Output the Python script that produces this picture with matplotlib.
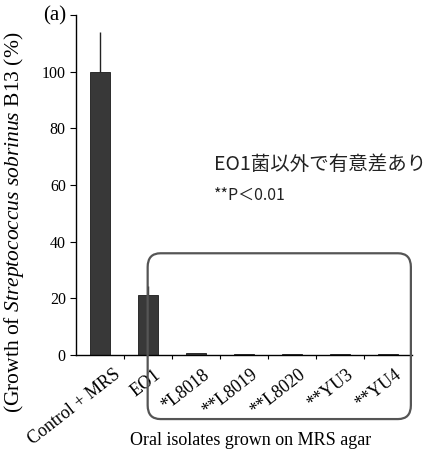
import matplotlib
matplotlib.use("Agg")
import matplotlib.pyplot as plt
from matplotlib.patches import FancyBboxPatch

categories = ["Control + MRS", "EO1", "*L8018", "**L8019", "**L8020", "**YU3", "**YU4"]
growth = [100, 21, 0.6, 0.5, 0.5, 0.4, 0.5]
err_up = [14, 3.5, 0, 0, 0, 0, 0]
yticks = [0, 20, 40, 60, 80, 100]

plt.rcParams["font.family"] = ["Liberation Serif", "DejaVu Serif"]
plt.rcParams["mathtext.fontset"] = "custom"
plt.rcParams["mathtext.rm"] = "Liberation Serif"
plt.rcParams["mathtext.it"] = "Liberation Serif:italic"

fig = plt.figure(figsize=(4.28, 4.58), dpi=100)
ax = fig.add_axes([0.178, 0.225, 0.785, 0.742])

x = list(range(len(categories)))
ax.bar(x, growth, width=0.42, color="#383838", edgecolor="#1a1a1a", lw=0.6)
ax.errorbar(x[:2], growth[:2], yerr=[[0, 0], err_up[:2]], fmt="none",
            ecolor="#222222", elinewidth=1.0, capsize=0)

ax.set_xlim(-0.5, 6.5)
ax.set_ylim(0, 120)
ax.set_yticks(yticks + [120])
ax.set_yticklabels([str(v) for v in yticks] + [""], fontsize=11.5)
ax.set_xticks([i + 0.5 for i in range(6)])
ax.set_xticklabels([])
ax.tick_params(axis="y", direction="out", length=4, width=0.8)
ax.tick_params(axis="x", direction="out", length=3, width=0.8)
for i, lab in enumerate(categories):
    ax.text(i + (0.27 if i == 0 else 0.12), -4, lab, rotation=38, ha="right",
            va="top", fontsize=13, rotation_mode="anchor")

ax.spines["top"].set_visible(False)
ax.spines["right"].set_visible(False)
ax.spines["left"].set_linewidth(1.0)
ax.spines["bottom"].set_linewidth(1.0)

ax.set_ylabel(r"(Growth of $\it{Streptococcus\ sobrinus}$ B13 (%)", fontsize=15.5)
ax.yaxis.set_label_coords(-0.15, 0.39)
fig.text(0.585, 0.038, "Oral isolates grown on MRS agar", ha="center",
         va="center", fontsize=13)
fig.text(0.128, 0.965, "(a)", ha="center", va="center", fontsize=15)

# significance note
fig.text(0.5, 0.64, "EO1菌以外で有意差あり", ha="left", va="center",
         fontsize=14, family=["Noto Sans CJK JP", "DejaVu Sans"], color="#222222")
fig.text(0.5, 0.573, "**P＜0.01", ha="left", va="center",
         fontsize=11.5, family=["Noto Sans CJK JP", "DejaVu Sans"], color="#222222")

box = FancyBboxPatch((0.345, 0.085), 0.615, 0.362,
                     boxstyle="round,pad=0,rounding_size=0.03",
                     transform=fig.transFigure, fill=False,
                     edgecolor="#555555", lw=1.6, clip_on=False)
fig.patches.append(box)

fig.savefig("out.png", dpi=100)
